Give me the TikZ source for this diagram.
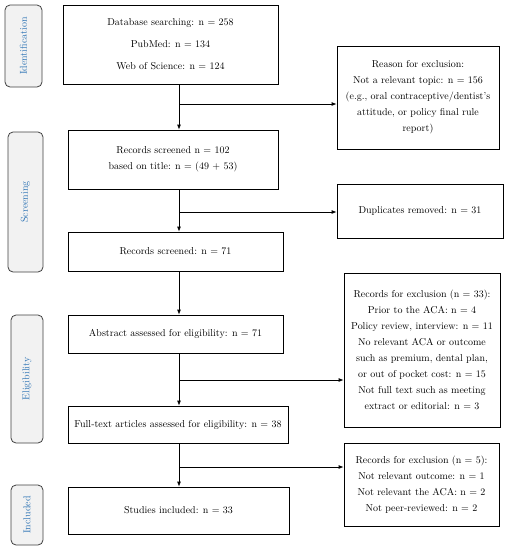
\documentclass[tikz,border=0pt]{standalone}
\usetikzlibrary{arrows.meta}
\definecolor{stageblue}{RGB}{46,116,181}
\definecolor{stagegray}{RGB}{242,242,242}

\begin{document}
\begin{tikzpicture}[x=1pt,y=-1pt,
	box/.style={draw,line width=0.8pt,align=center,inner sep=1pt,font=\fontsize{10}{16}\selectfont},
	stage/.style={draw=black!75,line width=0.8pt,fill=stagegray,rounded corners=5pt,rotate=90,text=stageblue,font=\fontsize{10}{11}\selectfont,inner sep=0pt},
	arr/.style={-{Latex[length=5pt,width=4pt]},line width=0.8pt}]
		\useasboundingbox (0,0) rectangle (507,550);
		
		% stages
		\node[stage,minimum width=82pt,minimum height=37pt] (ident) at(23.5,46) {Identification};
		\node[stage,minimum width=140pt,minimum height=35pt] (screen) at(25.5,202) {Screening};
		\node[stage,minimum width=128pt,minimum height=32pt] (elig) at(27,379) {Eligibility};
		\node[stage,minimum width=60pt,minimum height=32pt] (incl) at(27,515) {Included};
		
		% main column
		\node[box,minimum width=215pt,minimum height=79pt] (db) at(170.5,44.5) {Database searching: n = 258\\[6pt]PubMed: n = 134\\[6pt]Web of Science: n = 124};
		\node[box,minimum width=210pt,minimum height=59pt] (rs102) at(173,159.5) {Records screened n = 102\\based on title: n = (49 + 53)};
		\node[box,minimum width=215pt,minimum height=39pt] (rs71) at(175.5,251.5) {Records screened: n = 71};
		\node[box,minimum width=215pt,minimum height=38pt] (abs) at(175.5,334) {Abstract assessed for eligibility: n = 71};
		\node[box,minimum width=220pt,minimum height=37pt] (ft) at(178,424.5) {Full-text articles assessed for eligibility: n = 38};
		\node[box,minimum width=221pt,minimum height=47pt] (inc) at(178.5,510.5) {Studies included: n = 33};
		
		% exclusions
		\node[box,minimum width=162pt,minimum height=103pt] (reason) at(418,97.5) {Reason for exclusion:\\Not a relevant topic: n = 156\\(e.g., oral contraceptive/dentist's\\attitude, or policy final rule\\report)};
		\node[box,minimum width=166pt,minimum height=54pt] (dup) at(420,211) {Duplicates removed: n = 31};
		\node[box,minimum width=156pt,minimum height=154pt] (ex33) at(422,350) {Records for exclusion (n = 33):\\Prior to the ACA: n = 4\\Policy review, interview: n = 11\\No relevant ACA or outcome\\such as premium, dental plan,\\or out of pocket cost: n = 15\\Not full text such as meeting\\extract or editorial: n = 3};
		\node[box,minimum width=155pt,minimum height=83pt] (ex5) at(421.5,484.5) {Records for exclusion (n = 5):\\Not relevant outcome: n = 1\\Not relevant the ACA: n = 2\\Not peer-reviewed: n = 2};
		
		% flow
		\coordinate (axis) at(179,0);
		\draw[arr] (axis |- db.south) -- (axis |- rs102.north);
		\draw[arr] (axis |- rs102.south) -- (axis |- rs71.north);
		\draw[arr] (axis |- rs71.south) -- (axis |- abs.north);
		\draw[arr] (axis |- abs.south) -- (axis |- ft.north);
		\draw[arr] (axis |- ft.south) -- (axis |- inc.north);
		
		\coordinate (b1) at(179,104);
		\coordinate (b2) at(179,212);
		\coordinate (b3) at(179,380);
		\coordinate (b4) at(179,467);
		\draw[arr] (b1) -- (b1 -| reason.west);
		\draw[arr] (b2) -- (b2 -| dup.west);
		\draw[arr] (b3) -- (b3 -| ex33.west);
		\draw[arr] (b4) -- (b4 -| ex5.west);
\end{tikzpicture}
\end{document}
